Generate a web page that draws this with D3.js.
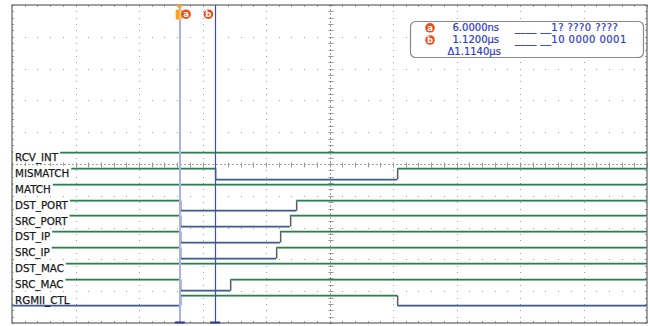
<!DOCTYPE html>
<html>
<head>
<meta charset="utf-8">
<script src="https://cdn.jsdelivr.net/npm/d3@7/dist/d3.min.js"></script>
<style>
  html, body { margin: 0; padding: 0; background: #fff; }
  svg { display: block; }
  text { font-family: "DejaVu Sans", Verdana, sans-serif; }
</style>
</head>
<body>
<svg id="chart" width="650" height="326"></svg>
<script>
// ---- Logic-analyzer capture: channel names, starting levels and edge times (µs) ----
const signalNames = ["RCV_INT", "MISMATCH", "MATCH", "DST_PORT", "SRC_PORT",
                     "DST_IP", "SRC_IP", "DST_MAC", "SRC_MAC", "RGMII_CTL"];
const initialLevels = [1, 1, 1, 1, 1, 1, 1, 1, 1, 0];
const edgeTimes = [
  [],
  [1.12, 6.85],
  [],
  [0.006, 3.68],
  [0.006, 3.47],
  [0.006, 3.16],
  [0.006, 3.04],
  [],
  [0.006, 1.60],
  [0.006, 6.86]
];

// Cursors (µs) and the bus state read at each cursor
const cursorNames = ["a", "b"];
const cursorTimes = [0.006, 1.12];
const cursorStates = ["____ __1? ???0 ????", "____ __10 0000 0001"];
const triggerTime = 0;

// Time window shown: 10 divisions of 2 µs
const timeDomain = [-5.28, 14.72];

// ---- geometry ----
const svg = d3.select("#chart");
const X0 = 12, X1 = 647, Y0 = 5, Y1 = 323;

const x = d3.scaleLinear().domain(timeDomain).range([X0, X1]);
const gx = d3.scaleLinear().domain([0, 10]).range([X0, X1]);   // graticule divisions
const gy = d3.scaleLinear().domain([0, 10]).range([Y0, Y1]);
const rowY = d3.scaleLinear().domain([0, signalNames.length - 1]).range([152, 294.7]);
const levelOffset = d3.scaleLinear().domain([0, 1]).range([10.7, 0]);

const snap = v => Math.round(v) + 0.5;

// ---- graticule ----
const grid = svg.append("g");
const minorX = d3.range(0, 50.001, 1).map(i => gx(i / 5));
const minorY = d3.range(0, 50.001, 1).map(i => gy(i / 5));

for (let i = 1; i < 10; i++) {
  if (i === 5) continue;
  grid.selectAll(null).data(minorY.slice(1, -1)).join("rect")
    .attr("x", Math.round(gx(i))).attr("y", d => Math.round(d))
    .attr("width", 1).attr("height", 1).attr("fill", "#a0a0a0");
  grid.selectAll(null).data(minorX.slice(1, -1)).join("rect")
    .attr("x", d => Math.round(d)).attr("y", Math.round(gy(i)))
    .attr("width", 1).attr("height", 1).attr("fill", "#a0a0a0");
}
// centre cross with tick marks
const cx = snap(gx(5)), cy = snap(gy(5));
grid.append("line").attr("x1", cx).attr("x2", cx).attr("y1", Y0).attr("y2", Y1)
  .attr("stroke", "#a0a0a0").attr("stroke-dasharray", "2,2");
grid.append("line").attr("x1", X0).attr("x2", X1).attr("y1", cy).attr("y2", cy)
  .attr("stroke", "#a0a0a0").attr("stroke-dasharray", "2,2");
grid.selectAll(null).data(minorY).join("line")
  .attr("x1", cx - 2).attr("x2", cx + 3).attr("y1", d => snap(d)).attr("y2", d => snap(d))
  .attr("stroke", "#9a9a9a");
grid.selectAll(null).data(minorX).join("line")
  .attr("x1", d => snap(d)).attr("x2", d => snap(d)).attr("y1", cy - 2).attr("y2", cy + 3)
  .attr("stroke", "#9a9a9a");

// frame with edge ticks
grid.selectAll(null).data(minorX).join("line")
  .attr("x1", d => snap(d)).attr("x2", d => snap(d)).attr("y1", Y0).attr("y2", Y0 + 2)
  .attr("stroke", "#999");
grid.selectAll(null).data(minorX).join("line")
  .attr("x1", d => snap(d)).attr("x2", d => snap(d)).attr("y1", Y1 - 2).attr("y2", Y1)
  .attr("stroke", "#999");
grid.selectAll(null).data(minorY).join("line")
  .attr("x1", X0).attr("x2", X0 + 2).attr("y1", d => snap(d)).attr("y2", d => snap(d))
  .attr("stroke", "#999");
grid.selectAll(null).data(minorY).join("line")
  .attr("x1", X1 - 2).attr("x2", X1).attr("y1", d => snap(d)).attr("y2", d => snap(d))
  .attr("stroke", "#999");
grid.append("rect").attr("x", X0).attr("y", Y0).attr("width", X1 - X0).attr("height", Y1 - Y0)
  .attr("fill", "none").attr("stroke", "#6e6e6e").attr("stroke-width", 1.3);

// ---- traces ----
const traces = svg.append("g");
const colors = {
  hi: "#2f7d50", hiShadow: "#9fd0b0",
  lo: "#3e5d8c", loShadow: "#b4c2da",
  edge: "#5e5e5e", edgeShadow: "#c4c4c4"
};

signalNames.forEach((name, i) => {
  const base = rowY(i);
  const bounds = [timeDomain[0], ...edgeTimes[i], timeDomain[1]];
  let level = initialLevels[i];
  const horiz = [], vert = [];
  for (let k = 0; k < bounds.length - 1; k++) {
    horiz.push({ t0: bounds[k], t1: bounds[k + 1], level });
    if (k < bounds.length - 2) {
      vert.push({ t: bounds[k + 1], from: level, to: 1 - level });
    }
    level = 1 - level;
  }
  const yOf = lv => snap(base + levelOffset(lv));

  // shadows first
  traces.selectAll(null).data(horiz).join("line")
    .attr("x1", d => x(d.t0)).attr("x2", d => x(d.t1))
    .attr("y1", d => yOf(d.level) + 1).attr("y2", d => yOf(d.level) + 1)
    .attr("stroke", d => d.level ? colors.hiShadow : colors.loShadow).attr("stroke-width", 1);
  traces.selectAll(null).data(vert).join("line")
    .attr("x1", d => snap(x(d.t)) + 1).attr("x2", d => snap(x(d.t)) + 1)
    .attr("y1", d => yOf(d.from)).attr("y2", d => yOf(d.to))
    .attr("stroke", colors.edgeShadow).attr("stroke-width", 1);
  // main strokes
  traces.selectAll(null).data(horiz).join("line")
    .attr("x1", d => x(d.t0)).attr("x2", d => x(d.t1))
    .attr("y1", d => yOf(d.level)).attr("y2", d => yOf(d.level))
    .attr("stroke", d => d.level ? colors.hi : colors.lo).attr("stroke-width", 1.3);
  traces.selectAll(null).data(vert).join("line")
    .attr("x1", d => snap(x(d.t))).attr("x2", d => snap(x(d.t)))
    .attr("y1", d => yOf(d.from)).attr("y2", d => yOf(d.to))
    .attr("stroke", colors.edge).attr("stroke-width", 1.2);
});

// ---- channel labels ----
const labels = svg.append("g");
signalNames.forEach((name, i) => {
  const base = rowY(i);
  const g = labels.append("g");
  const bg = g.append("rect").attr("fill", "#fff");
  const t = g.append("text").attr("x", 15).attr("y", base + 9.2)
    .attr("font-size", 10.3).attr("fill", "#1a1a1a")
    .attr("stroke", "#1a1a1a").attr("stroke-width", 0.25).text(name);
  const w = t.node().getComputedTextLength();
  bg.attr("x", X0 + 1).attr("y", base - 2).attr("width", w + 4).attr("height", 11.5);
});

// ---- cursors ----
const cur = svg.append("g");
const cursorStyle = [
  { stroke: "#a8b0ee", width: 2 },
  { stroke: "#3c4cc2", width: 1.2 }
];
cursorTimes.forEach((t, i) => {
  const cxp = i === 0 ? Math.round(x(t)) : snap(x(t));
  cur.append("line").attr("x1", cxp).attr("x2", cxp).attr("y1", Y0).attr("y2", Y1)
    .attr("stroke", cursorStyle[i].stroke).attr("stroke-width", cursorStyle[i].width);
  cur.append("rect").attr("x", x(t) - 5).attr("y", Y1 - 1.5).attr("width", 10).attr("height", 2)
    .attr("fill", "#2a3a9a");
});

// trigger marker
const tx = x(triggerTime);
cur.append("path")
  .attr("d", `M${tx - 3.5},${Y0} L${tx + 3.5},${Y0} L${tx},${Y0 + 4} Z`)
  .attr("fill", "#f6a41f");
cur.append("rect").attr("x", tx - 4).attr("y", 9.5).attr("width", 7).attr("height", 10)
  .attr("rx", 1.5).attr("fill", "#f6a41f");
cur.append("rect").attr("x", tx).attr("y", 9.5).attr("width", 1.5).attr("height", 10)
  .attr("fill", "#fbd9a0");

function badge(parent, cxp, cyp, letter) {
  parent.append("circle").attr("cx", cxp).attr("cy", cyp).attr("r", 4.8).attr("fill", "#ee4a16");
  parent.append("text").attr("x", cxp).attr("y", cyp + 2.9)
    .attr("text-anchor", "middle").attr("font-size", 8.5).attr("font-weight", "bold")
    .attr("fill", "#fff").text(letter);
}
badge(cur, x(cursorTimes[0]) + 6.2, 14.2, cursorNames[0]);
badge(cur, x(cursorTimes[1]) - 6.8, 14.2, cursorNames[1]);

// ---- cursor readout box ----
const fmtTime = t => t < 1 ? (t * 1000).toFixed(4) + "ns" : t.toFixed(4) + "µs";
const box = svg.append("g");
box.append("rect").attr("x", 410.5).attr("y", 21.5).attr("width", 233).attr("height", 36)
  .attr("rx", 5).attr("fill", "#fff").attr("stroke", "#8a8a8a").attr("stroke-width", 1.2);
const rowsY = [31, 43.2];
const readoutText = sel => sel.attr("font-size", 10).attr("fill", "#2c3cc6")
  .attr("stroke", "#2c3cc6").attr("stroke-width", 0.2);
cursorNames.forEach((n, i) => {
  badge(box, 430, rowsY[i] - 3.2, n);
  box.append("text").attr("x", 452.5).attr("y", rowsY[i]).call(readoutText)
    .text(fmtTime(cursorTimes[i]));
  box.append("text").attr("x", 515).attr("y", rowsY[i]).call(readoutText)
    .attr("letter-spacing", 0.45).text(cursorStates[i]);
});
box.append("text").attr("x", 447.5).attr("y", 54.6).call(readoutText)
  .text("Δ" + fmtTime(cursorTimes[1] - cursorTimes[0]));
</script>
</body>
</html>
